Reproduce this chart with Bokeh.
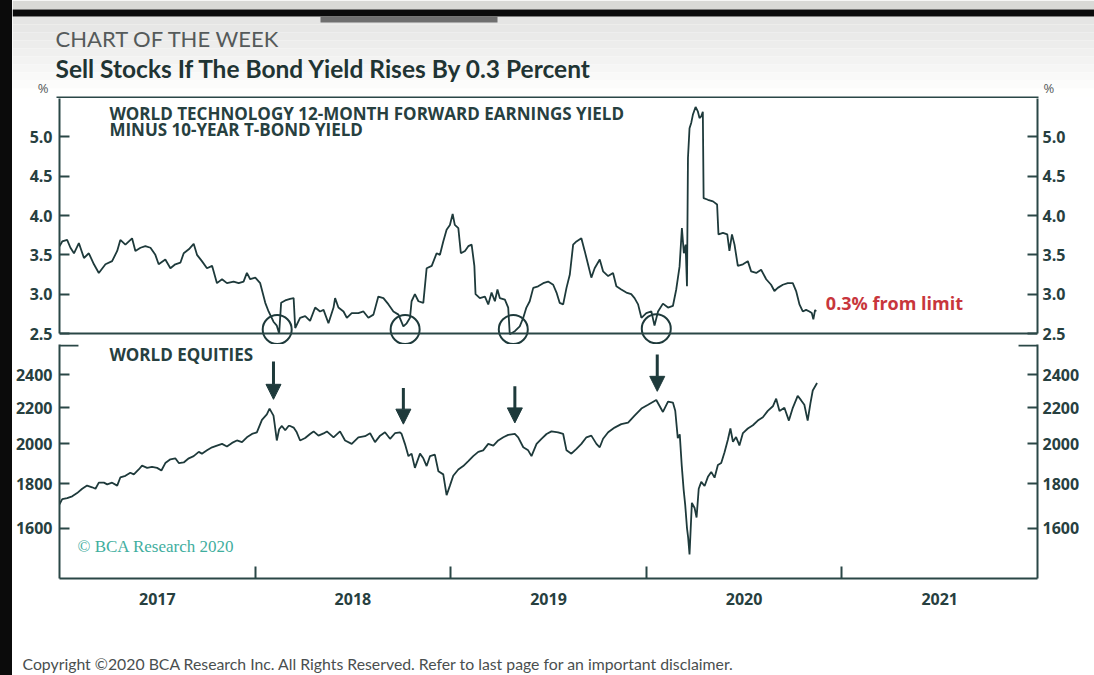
from bokeh.plotting import figure
from bokeh.layouts import column, row
from bokeh.models import (Range1d, LinearAxis, LogAxis, FixedTicker, NumeralTickFormatter,
                          Label, Span, Arrow, NormalHead, Spacer)
from bokeh.embed import file_html
from bokeh.resources import INLINE

# ---------------- data ----------------
years = ["2017", "2018", "2019", "2020", "2021"]
yield_ticks = [2.5, 3.0, 3.5, 4.0, 4.5, 5.0]
equity_ticks = [1600, 1800, 2000, 2200, 2400]

# World tech 12m fwd earnings yield minus 10y T-bond yield (%), decimal years
yield_t = [2017.000, 2017.014, 2017.039, 2017.056, 2017.074, 2017.099, 2017.125, 2017.150, 2017.176, 2017.201,
           2017.235, 2017.269, 2017.295, 2017.311, 2017.337, 2017.371, 2017.388, 2017.414, 2017.439, 2017.465,
           2017.490, 2017.507, 2017.541, 2017.567, 2017.592, 2017.618, 2017.635, 2017.661, 2017.686, 2017.703,
           2017.728, 2017.754, 2017.780, 2017.805, 2017.831, 2017.856, 2017.890, 2017.916, 2017.941, 2017.958,
           2017.975, 2018.001, 2018.026, 2018.052, 2018.069, 2018.094, 2018.111, 2018.123, 2018.133, 2018.154,
           2018.179, 2018.197, 2018.205, 2018.230, 2018.256, 2018.281, 2018.307, 2018.332, 2018.350, 2018.375,
           2018.401, 2018.409, 2018.426, 2018.452, 2018.469, 2018.494, 2018.528, 2018.554, 2018.579, 2018.605,
           2018.630, 2018.656, 2018.682, 2018.707, 2018.733, 2018.758, 2018.775, 2018.792, 2018.800, 2018.817,
           2018.835, 2018.860, 2018.877, 2018.903, 2018.928, 2018.945, 2018.962, 2018.979, 2018.996, 2019.010,
           2019.021, 2019.039, 2019.052, 2019.073, 2019.090, 2019.107, 2019.121, 2019.127, 2019.149, 2019.175,
           2019.192, 2019.209, 2019.226, 2019.239, 2019.251, 2019.277, 2019.294, 2019.302, 2019.328, 2019.353,
           2019.371, 2019.387, 2019.404, 2019.422, 2019.447, 2019.473, 2019.498, 2019.524, 2019.541, 2019.557,
           2019.575, 2019.592, 2019.609, 2019.626, 2019.643, 2019.668, 2019.685, 2019.702, 2019.719, 2019.736,
           2019.762, 2019.779, 2019.805, 2019.830, 2019.847, 2019.872, 2019.898, 2019.923, 2019.940, 2019.958,
           2019.975, 2020.000, 2020.026, 2020.042, 2020.060, 2020.085, 2020.111, 2020.136, 2020.153, 2020.170,
           2020.182, 2020.192, 2020.201, 2020.208, 2020.213, 2020.221, 2020.230, 2020.238, 2020.252, 2020.264,
           2020.272, 2020.281, 2020.289, 2020.293, 2020.315, 2020.341, 2020.362, 2020.369, 2020.392, 2020.414,
           2020.425, 2020.438, 2020.451, 2020.468, 2020.494, 2020.519, 2020.536, 2020.562, 2020.587, 2020.613,
           2020.638, 2020.655, 2020.672, 2020.698, 2020.723, 2020.749, 2020.766, 2020.783, 2020.800, 2020.817,
           2020.834, 2020.846, 2020.854, 2020.863, 2020.868]
yield_v = [3.61, 3.67, 3.69, 3.59, 3.52, 3.65, 3.46, 3.52, 3.38, 3.27,
           3.38, 3.42, 3.55, 3.69, 3.63, 3.71, 3.55, 3.59, 3.61, 3.59,
           3.50, 3.38, 3.44, 3.33, 3.38, 3.40, 3.52, 3.57, 3.64, 3.50,
           3.42, 3.33, 3.36, 3.14, 3.19, 3.14, 3.16, 3.14, 3.16, 3.27,
           3.19, 3.21, 3.14, 2.89, 2.78, 2.65, 2.60, 2.50, 2.89, 2.92,
           2.94, 2.95, 2.57, 2.70, 2.72, 2.66, 2.83, 2.78, 2.80, 2.63,
           2.83, 2.95, 2.83, 2.78, 2.70, 2.76, 2.76, 2.78, 2.70, 2.74,
           2.97, 2.95, 2.87, 2.78, 2.74, 2.59, 2.63, 2.70, 2.91, 3.00,
           2.91, 2.89, 3.33, 3.36, 3.52, 3.50, 3.67, 3.82, 3.88, 4.02,
           3.88, 3.84, 3.52, 3.55, 3.61, 3.63, 3.36, 3.00, 2.95, 2.97,
           2.87, 3.02, 2.91, 3.06, 2.95, 2.93, 2.83, 2.49, 2.53, 2.59,
           2.70, 2.83, 2.91, 3.08, 3.10, 3.14, 3.16, 3.12, 3.02, 2.89,
           2.87, 3.08, 3.25, 3.63, 3.67, 3.71, 3.55, 3.38, 3.21, 3.33,
           3.44, 3.29, 3.23, 3.27, 3.10, 3.06, 3.02, 3.00, 2.95, 2.87,
           2.70, 2.76, 2.78, 2.60, 2.78, 2.88, 2.83, 2.85, 3.06, 3.35,
           3.84, 3.52, 3.63, 3.10, 4.73, 5.11, 5.18, 5.28, 5.38, 5.32,
           5.24, 5.26, 5.32, 4.22, 4.20, 4.18, 4.14, 3.76, 3.78, 3.76,
           3.55, 3.76, 3.63, 3.36, 3.38, 3.42, 3.29, 3.27, 3.31, 3.19,
           3.12, 3.04, 3.08, 3.12, 3.14, 3.14, 3.04, 2.87, 2.78, 2.80,
           2.78, 2.76, 2.68, 2.80, 2.78]

# World equities index level
equity_t = [2017.000, 2017.014, 2017.039, 2017.065, 2017.090, 2017.116, 2017.141, 2017.167, 2017.184, 2017.201,
            2017.227, 2017.244, 2017.269, 2017.295, 2017.311, 2017.337, 2017.362, 2017.380, 2017.405, 2017.422,
            2017.448, 2017.473, 2017.499, 2017.521, 2017.541, 2017.567, 2017.592, 2017.610, 2017.635, 2017.661,
            2017.686, 2017.712, 2017.728, 2017.754, 2017.780, 2017.805, 2017.831, 2017.856, 2017.882, 2017.907,
            2017.933, 2017.958, 2017.984, 2018.009, 2018.035, 2018.060, 2018.074, 2018.086, 2018.094, 2018.100,
            2018.111, 2018.123, 2018.137, 2018.154, 2018.171, 2018.179, 2018.197, 2018.213, 2018.230, 2018.256,
            2018.281, 2018.299, 2018.324, 2018.350, 2018.367, 2018.401, 2018.434, 2018.460, 2018.494, 2018.528,
            2018.562, 2018.588, 2018.613, 2018.639, 2018.664, 2018.690, 2018.715, 2018.741, 2018.749, 2018.766,
            2018.784, 2018.800, 2018.817, 2018.843, 2018.860, 2018.877, 2018.894, 2018.919, 2018.937, 2018.962,
            2018.979, 2018.996, 2019.013, 2019.039, 2019.064, 2019.090, 2019.115, 2019.141, 2019.166, 2019.192,
            2019.218, 2019.243, 2019.269, 2019.294, 2019.328, 2019.345, 2019.371, 2019.396, 2019.413, 2019.439,
            2019.464, 2019.490, 2019.515, 2019.549, 2019.575, 2019.592, 2019.617, 2019.643, 2019.668, 2019.694,
            2019.719, 2019.745, 2019.762, 2019.779, 2019.805, 2019.838, 2019.872, 2019.907, 2019.940, 2019.975,
            2020.009, 2020.051, 2020.085, 2020.111, 2020.136, 2020.148, 2020.161, 2020.171, 2020.181, 2020.191,
            2020.199, 2020.208, 2020.214, 2020.221, 2020.233, 2020.247, 2020.257, 2020.268, 2020.281, 2020.298,
            2020.315, 2020.332, 2020.349, 2020.366, 2020.383, 2020.400, 2020.417, 2020.430, 2020.443, 2020.459,
            2020.476, 2020.494, 2020.519, 2020.545, 2020.570, 2020.596, 2020.621, 2020.647, 2020.664, 2020.681,
            2020.706, 2020.729, 2020.749, 2020.774, 2020.791, 2020.808, 2020.825, 2020.839, 2020.851, 2020.873]
equity_v = [1704, 1727, 1732, 1740, 1755, 1775, 1790, 1782, 1775, 1804,
            1804, 1796, 1804, 1790, 1829, 1837, 1852, 1844, 1868, 1887,
            1876, 1881, 1876, 1863, 1900, 1919, 1924, 1900, 1903, 1924,
            1935, 1957, 1948, 1965, 1981, 1990, 1999, 1985, 2004, 2017,
            2008, 2034, 2052, 2061, 2130, 2161, 2194, 2170, 2154, 2106,
            2017, 2078, 2096, 2072, 2096, 2096, 2087, 2061, 2017, 2030,
            2052, 2066, 2043, 2055, 2066, 2034, 2066, 2017, 1999, 2034,
            2040, 2056, 2008, 2043, 2061, 2026, 2056, 2061, 2052, 1999,
            1935, 1948, 1876, 1948, 1924, 1885, 1935, 1943, 1859, 1844,
            1745, 1790, 1837, 1868, 1885, 1910, 1935, 1957, 1965, 1999,
            1990, 2017, 2034, 2047, 2052, 2034, 1981, 1965, 1935, 1999,
            2026, 2052, 2066, 2061, 2052, 1965, 1948, 1973, 1999, 2034,
            2043, 1999, 1981, 2026, 2061, 2087, 2106, 2115, 2154, 2195,
            2217, 2245, 2175, 2235, 2230, 2182, 2030, 2050, 1890, 1770,
            1700, 1600, 1560, 1492, 1710, 1687, 1645, 1775, 1808, 1788,
            1832, 1856, 1828, 1890, 1900, 1955, 2021, 2082, 2010, 2035,
            1991, 2057, 2082, 2100, 2126, 2145, 2181, 2208, 2253, 2181,
            2199, 2126, 2199, 2270, 2244, 2217, 2126, 2225, 2302, 2348]

# circled troughs in the yield gap and matching arrows on equities
signal_t = [2018.113, 2018.767, 2019.320, 2020.051]
signal_yield = [2.55, 2.55, 2.55, 2.56]
arrow_t = [2018.094, 2018.758, 2019.328, 2020.056]
arrow_from = [2486, 2317, 2328, 2532]
arrow_to = [2249, 2106, 2113, 2297]

# ---------------- styling ----------------
LINE = "#1e3a3b"
AXC = "#2a4746"
TXT = "#27403f"
NUM_FONT = "Open Sans"
HEAD_FONT = "Lato"
X0, X1 = 2017.0, 2022.0
PX_YR = 196.0              # pixels per year
PX_PCT = 78.67             # pixels per percentage point (upper panel)
LEFT_STRIP = 12            # dark photo border on the left
W = 1094 - LEFT_STRIP
BL, BR = 57 - LEFT_STRIP, 1094 - 1037   # borders around the plotting frames
X_FULL = (X0 - BL / PX_YR, X1 + BR / PX_YR)


def bare(fig):
    fig.outline_line_color = None
    fig.xgrid.grid_line_color = None
    fig.ygrid.grid_line_color = None
    fig.background_fill_color = "white"
    fig.border_fill_color = "white"
    return fig


# ---------------- header (titles) ----------------
HDR_H = 98
hdr_top = 5.5 + 97 / PX_PCT
header = bare(figure(width=W, height=HDR_H, x_range=Range1d(*X_FULL),
                     y_range=Range1d(hdr_top - HDR_H / PX_PCT, hdr_top),
                     output_backend="svg", toolbar_location=None,
                     x_axis_location=None, y_axis_location=None, min_border=0))
header.frame_align = False


def hy(py):  # header pixel row -> header data value
    return hdr_top - py / PX_PCT


# photo background: grey top, dark band, tab and soft gradient
header.quad(left=[X_FULL[0]], right=[X_FULL[1]], top=[hy(0)], bottom=[hy(9)],
            fill_color="#d9d9d6", line_color=None)
steps = 10
for i in range(steps):
    g = int(229 + (255 - 229) * i / (steps - 1))
    header.quad(left=[X_FULL[0]], right=[X_FULL[1]], top=[hy(16 + 8 * i)], bottom=[hy(24 + 8 * i)],
                fill_color="#%02x%02x%02x" % (g, g, max(g - 1, 0)), line_color=None)
header.quad(left=[X_FULL[0]], right=[X_FULL[1]], top=[hy(9)], bottom=[hy(16)],
            fill_color="#0b0b0b", line_color=None)
header.quad(left=[X0 + 263 / PX_YR], right=[X0 + 440 / PX_YR], top=[hy(16)], bottom=[hy(22)],
            fill_color="#6f6f6f", line_color=None)

# top edge of the upper panel box
header.segment(x0=[X0 - 1 / PX_YR], x1=[X1 + 1 / PX_YR], y0=[5.5], y1=[5.5],
               line_color=AXC, line_width=2)

header.add_layout(Label(x=X0 - 2 / PX_YR, y=hy(51), text="CHART OF THE WEEK", text_font=HEAD_FONT,
                        text_font_size="22px", text_color="#555a5a"))
header.add_layout(Label(x=X0 - 2 / PX_YR, y=hy(82), text="Sell Stocks If The Bond Yield Rises By 0.3 Percent",
                        text_font=HEAD_FONT, text_font_style="bold", text_font_size="24.5px",
                        text_color="#1f3433"))
header.add_layout(Label(x=X0 - 9 / PX_YR, y=hy(96), text="%", text_align="right", text_font=NUM_FONT,
                        text_font_size="13px", text_color="#555a5a"))
header.add_layout(Label(x=X1 + 6 / PX_YR, y=hy(96), text="%", text_font=NUM_FONT,
                        text_font_size="13px", text_color="#555a5a"))

# ---------------- upper panel ----------------
TOP_H = 246   # canvas rows 98..344
top = bare(figure(width=W, height=TOP_H, x_range=Range1d(X0, X1),
                  y_range=Range1d(5.5 - 247 / PX_PCT, 5.5 - 1 / PX_PCT),
                  output_backend="svg", toolbar_location=None,
                  x_axis_location=None, y_axis_location=None,
                  min_border_left=BL, min_border_right=BR, min_border_top=0, min_border_bottom=0))


def style_axis(ax, ticks, fmt):
    ax.ticker = FixedTicker(ticks=ticks)
    ax.formatter = NumeralTickFormatter(format=fmt)
    ax.major_tick_in = 10
    ax.major_tick_out = 0
    ax.major_tick_line_width = 2
    ax.major_tick_line_color = AXC
    ax.minor_tick_line_color = None
    ax.axis_line_width = 2
    ax.axis_line_color = AXC
    ax.major_label_text_font = NUM_FONT
    ax.major_label_text_font_style = "bold"
    ax.major_label_text_font_size = "16px"
    ax.major_label_text_color = TXT


for side in ("left", "right"):
    ax = LinearAxis(bounds=(2.5, 5.5))
    style_axis(ax, yield_ticks, "0.0")
    ax.major_label_standoff = 7 if side == "left" else 5
    top.add_layout(ax, side)

top.add_layout(Span(location=2.5, dimension="width", line_color=AXC, line_width=2))

top.line(yield_t, yield_v, line_color=LINE, line_width=1.8)
top.scatter(signal_t, signal_yield, marker="circle", size=29, fill_color=None,
            line_color=LINE, line_width=2)

top.add_layout(Label(x=X0 + 50 / PX_YR, y=5.5 - 27 / PX_PCT,
                     text="WORLD TECHNOLOGY 12-MONTH FORWARD EARNINGS YIELD",
                     text_font=NUM_FONT, text_font_style="bold", text_font_size="17px",
                     text_color=TXT))
top.add_layout(Label(x=X0 + 50 / PX_YR, y=5.5 - 43 / PX_PCT, text="MINUS 10-YEAR T-BOND YIELD",
                     text_font=NUM_FONT, text_font_style="bold", text_font_size="17px",
                     text_color=TXT))
top.add_layout(Label(x=2020.918, y=2.729, text="0.3% from limit", text_font=NUM_FONT,
                     text_font_style="bold", text_font_size="18px", text_color="#c8363c"))

# ---------------- lower panel ----------------
BOT_H = 301   # canvas rows 344..645, frame 344..578
EQ_LO, EQ_HI = 1400, 2600
bot = bare(figure(width=W, height=BOT_H, x_range=top.x_range, y_range=Range1d(EQ_LO, EQ_HI),
                  y_axis_type="log", output_backend="svg", toolbar_location=None,
                  x_axis_location=None, y_axis_location=None,
                  min_border_left=BL, min_border_right=BR, min_border_top=0, min_border_bottom=67))

for side in ("left", "right"):
    ax = LogAxis(bounds=(EQ_LO, EQ_HI))
    style_axis(ax, equity_ticks, "0")
    ax.major_label_standoff = 7 if side == "left" else 5
    bot.add_layout(ax, side)

mid_ticks = [int(y) + 0.5 for y in years]
bounds_ticks = [int(y) for y in years[1:]]
xax = LinearAxis(ticker=FixedTicker(ticks=mid_ticks, minor_ticks=bounds_ticks),
                 major_label_overrides={m: y for m, y in zip(mid_ticks, years)})
xax.major_tick_line_color = None
xax.minor_tick_in = 12
xax.minor_tick_out = 0
xax.minor_tick_line_width = 2
xax.minor_tick_line_color = AXC
xax.axis_line_width = 2
xax.axis_line_color = AXC
xax.major_label_standoff = 8
xax.major_label_text_font = NUM_FONT
xax.major_label_text_font_style = "bold"
xax.major_label_text_font_size = "16px"
xax.major_label_text_color = TXT
bot.add_layout(xax, "below")

# short caps at the top corners of the lower panel
cap = 19 / PX_YR
cap_y = EQ_HI * 0.9975
bot.segment(x0=[X0, X1 - cap], y0=[cap_y, cap_y], x1=[X0 + cap, X1], y1=[cap_y, cap_y],
            line_color=AXC, line_width=2)

bot.line(equity_t, equity_v, line_color=LINE, line_width=1.8)

for xa, ya, yb in zip(arrow_t, arrow_from, arrow_to):
    bot.add_layout(Arrow(end=NormalHead(size=15, fill_color=LINE, line_color=LINE),
                         x_start=xa, y_start=ya, x_end=xa, y_end=yb,
                         line_color=LINE, line_width=3))

bot.add_layout(Label(x=X0 + 50 / PX_YR, y=2454, text="WORLD EQUITIES", text_font=NUM_FONT,
                     text_font_style="bold", text_font_size="17px", text_color=TXT))
bot.add_layout(Label(x=X0 + 18 / PX_YR, y=1484, text="© BCA Research 2020", text_font="Liberation Serif",
                     text_font_size="17px", text_color="#3fae9e"))

# ---------------- footer ----------------
FTR_H = 30
footer = bare(figure(width=W, height=FTR_H, x_range=Range1d(*X_FULL), y_range=Range1d(0, FTR_H),
                     output_backend="svg", toolbar_location=None,
                     x_axis_location=None, y_axis_location=None, min_border=0))
footer.frame_align = False
footer.add_layout(Label(x=X0 - 35 / PX_YR, y=3,
                        text="Copyright ©2020 BCA Research Inc. All Rights Reserved. Refer to last page for an important disclaimer.",
                        text_font=HEAD_FONT, text_font_size="15.8px", text_color="#4a4f4f"))

strip = Spacer(width=LEFT_STRIP, height=HDR_H + TOP_H + BOT_H + FTR_H,
               styles={"background-color": "#0b0b0b"})
layout = row(strip, column(header, top, bot, footer, spacing=0), spacing=0)
open("out.html", "w").write(file_html(layout, INLINE))
